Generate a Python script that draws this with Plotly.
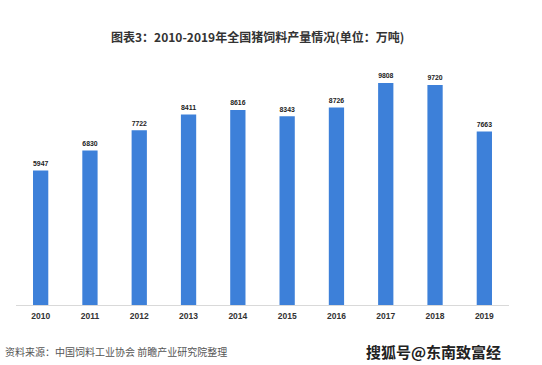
import plotly.graph_objects as go

years = ["2010", "2011", "2012", "2013", "2014", "2015", "2016", "2017", "2018", "2019"]
output = [5947, 6830, 7722, 8411, 8616, 8343, 8726, 9808, 9720, 7663]

title_text = "图表3：2010-2019年全国猪饲料产量情况(单位：万吨)"
source_text = "资料来源：中国饲料工业协会 前瞻产业研究院整理"
watermark_text = "搜狐号@东南致富经"

W, H = 542, 365
plot_left, plot_right = 16, 509
plot_top, plot_bottom = 56, 305

fig = go.Figure()
fig.add_trace(go.Bar(
    x=years, y=output,
    marker=dict(color="#3d80d9", line=dict(width=0)),
    width=0.31,
    text=["<b>" + str(v) + "</b>" for v in output],
    textposition="outside",
    textfont=dict(family="Liberation Sans, Arial, sans-serif", size=9, color="#222222"),
    cliponaxis=False,
    hoverinfo="skip",
))

fig.update_layout(
    width=W, height=H,
    margin=dict(l=plot_left, r=W - plot_right, t=plot_top, b=H - plot_bottom, autoexpand=False),
    paper_bgcolor="white", plot_bgcolor="white",
    showlegend=False,
    xaxis=dict(
        type="category", range=[-0.5, 9.5], automargin=False,
        showgrid=False, showline=True, linecolor="#d9d9d9", linewidth=1,
        ticks="", tickfont=dict(family="Liberation Sans, Arial, sans-serif", size=8.5, color="#333333"),
        tickprefix="<b>", ticksuffix="</b>",
        ticklabelstandoff=3,
    ),
    yaxis=dict(range=[0, 11000], visible=False, showgrid=False, automargin=False),
    annotations=[
        dict(text="<b>" + title_text + "</b>", x=257, y=37,
             showarrow=False, xanchor="center", font=dict(family="Noto Sans CJK SC", size=12, color="#333333")),
        dict(text=source_text, x=3, y=351,
             xanchor="left", showarrow=False,
             font=dict(family="Noto Sans CJK SC", size=10, color="#555555")),
        dict(text="<b>" + watermark_text + "</b>", x=503, y=351,
             xanchor="right", showarrow=False,
             font=dict(family="Noto Sans CJK SC", size=15, color="#222222")),
    ],
)

# convert pixel positions of annotations to paper coordinates
ph = plot_bottom - plot_top
pw = plot_right - plot_left
for a in fig.layout.annotations:
    a.xref = "paper"
    a.yref = "paper"
    a.y = (plot_bottom - a.y) / ph
    a.yanchor = "middle"
    a.x = (a.x - plot_left) / pw

fig.write_html(
    "out.html",
    config={"displayModeBar": False},
    post_script="document.body.style.margin='0';document.body.style.overflow='hidden';",
)
